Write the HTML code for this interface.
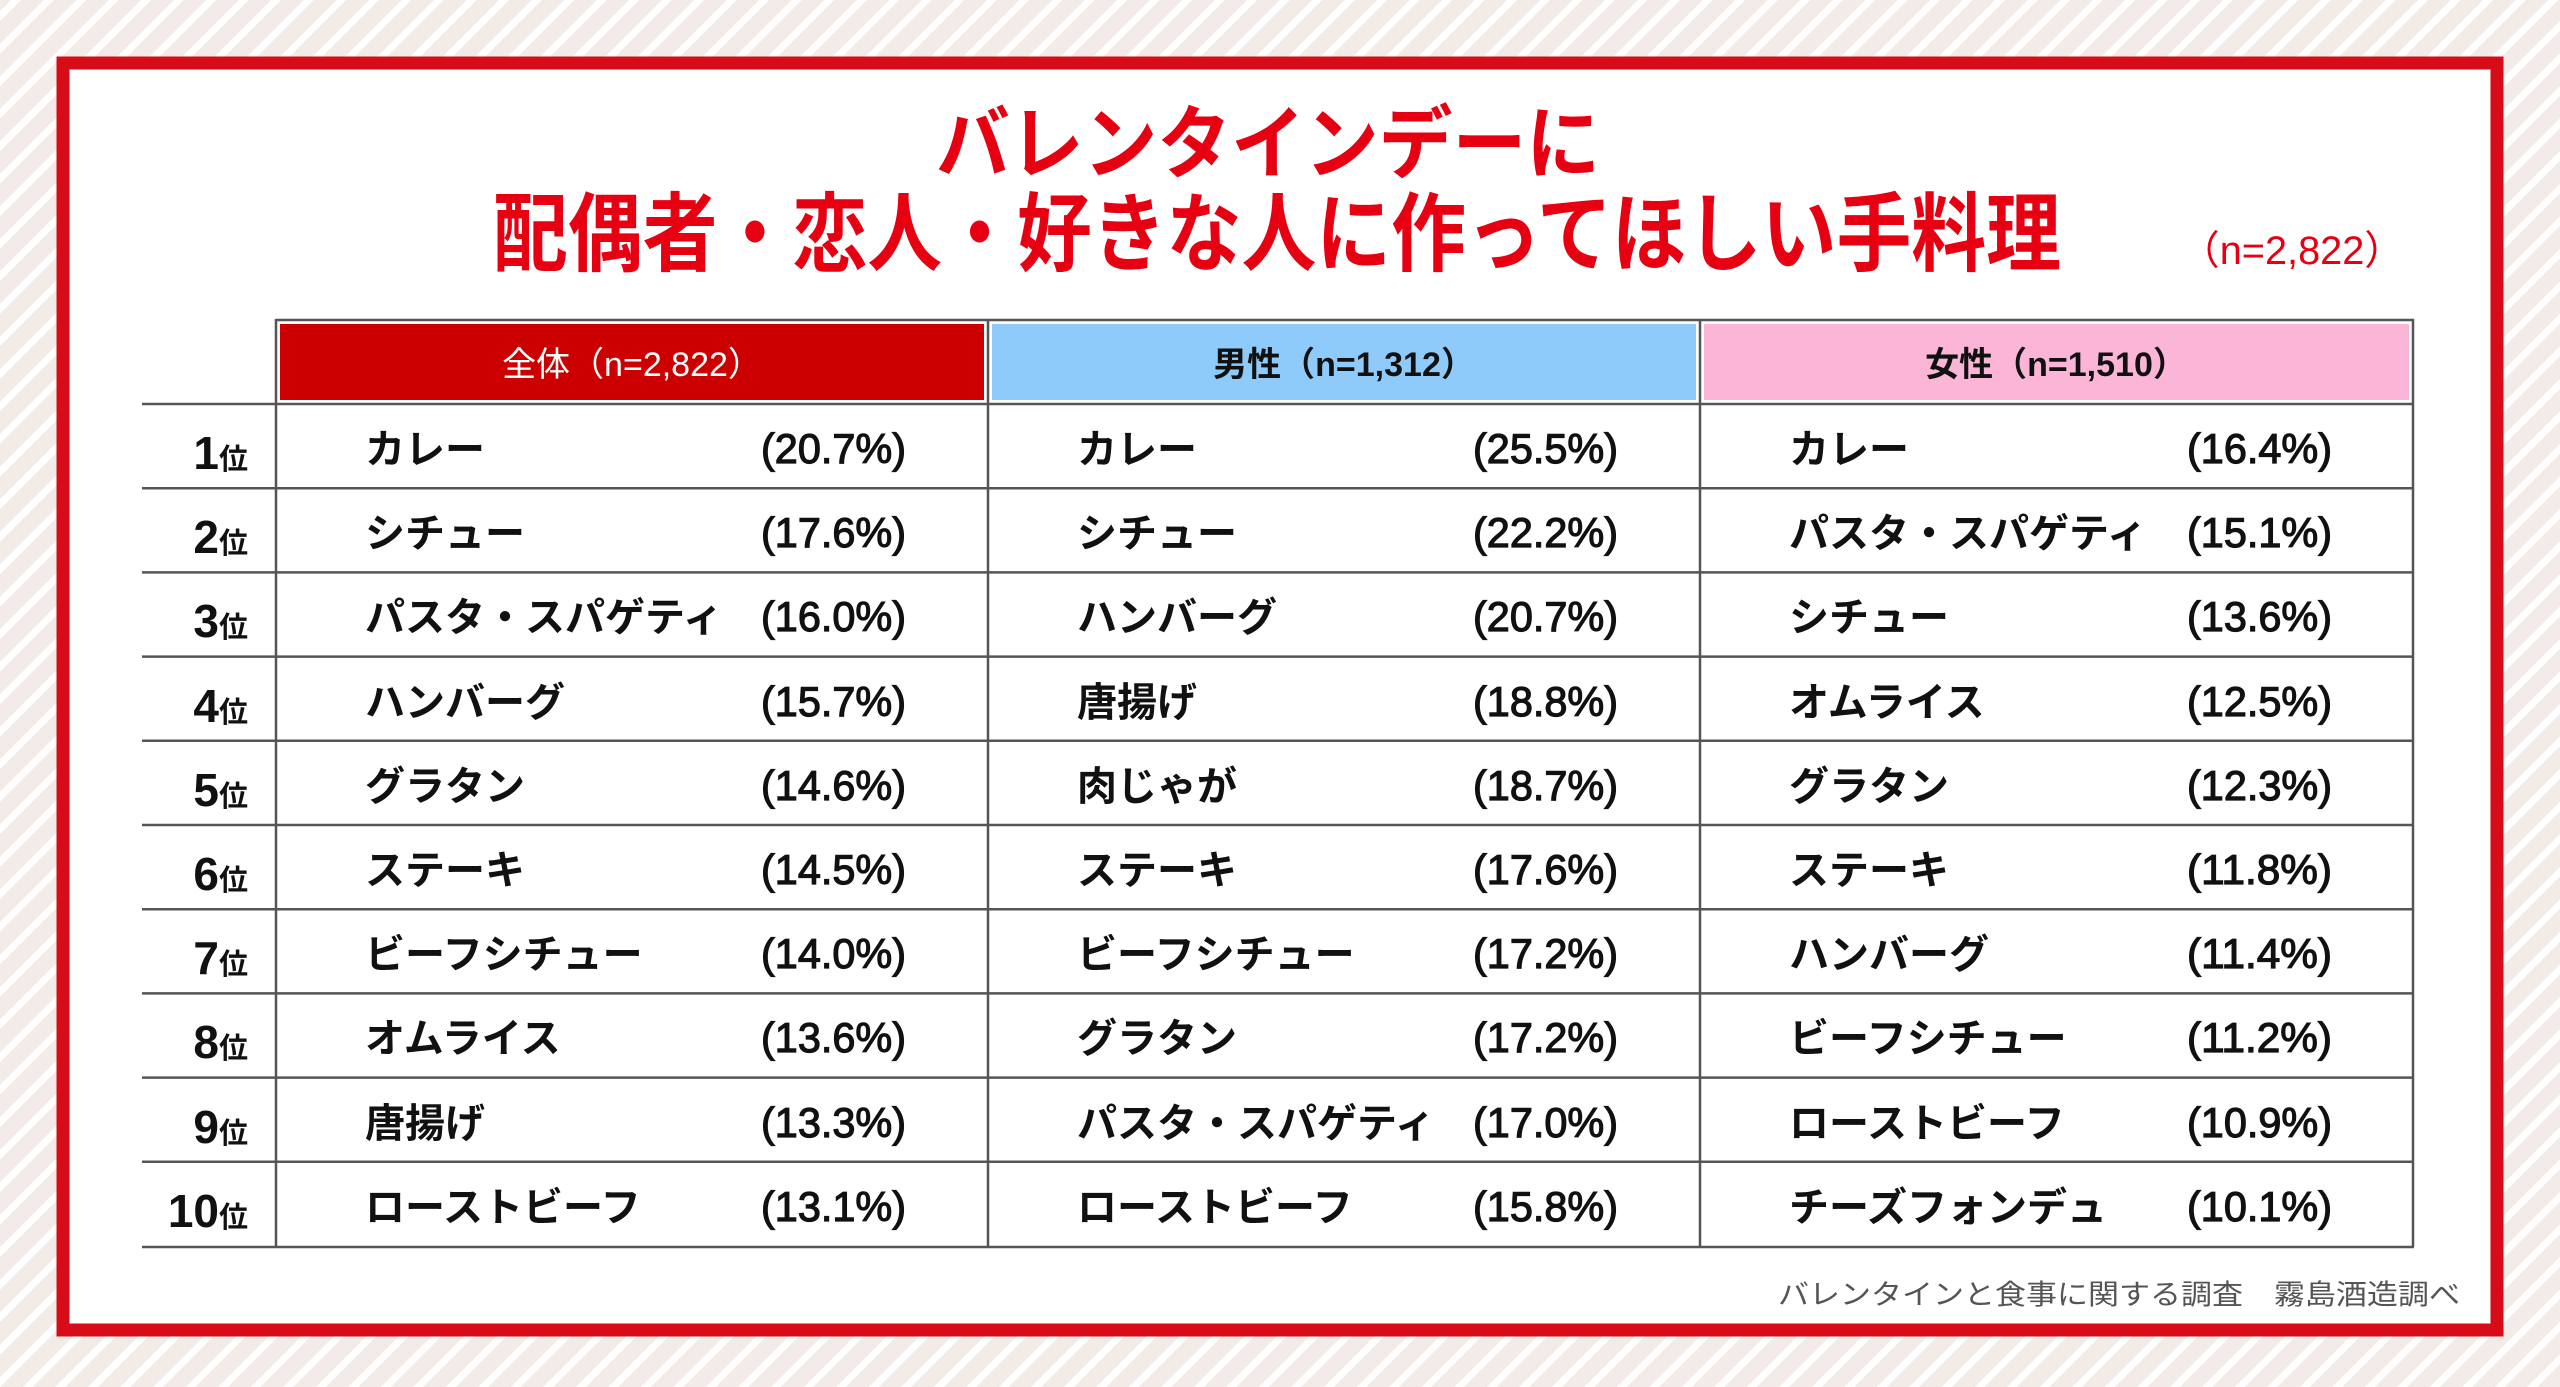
<!DOCTYPE html>
<html><head><meta charset="utf-8"><style>
html,body{margin:0;padding:0;}
body{width:2560px;height:1387px;overflow:hidden;background:#f3ebe8;
background-image:repeating-linear-gradient(-45deg,#f3ebe8 0 16px,#ffffff 16px 23px);}
svg{position:absolute;left:0;top:0;}
.j{font-family:"Liberation Sans","Noto Sans CJK JP",sans-serif;}
</style></head><body>
<svg width="2560" height="1387" viewBox="0 0 2560 1387" xmlns="http://www.w3.org/2000/svg">
<rect x="63" y="63" width="2434" height="1267" fill="#fff" stroke="#d70c18" stroke-width="13"/>
<g class="j" font-weight="bold" fill="#e60012" text-anchor="middle">
<text x="1268" y="172" font-size="80" textLength="664" lengthAdjust="spacingAndGlyphs">バレンタインデーに</text>
<text x="1277" y="264" font-size="86" textLength="1568" lengthAdjust="spacingAndGlyphs">配偶者・恋人・好きな人に作ってほしい手料理</text>
</g>
<text class="j" x="2180" y="264" font-size="40" fill="#e60012" textLength="224" lengthAdjust="spacingAndGlyphs">（n=2,822）</text>
<rect x="280" y="324" width="704" height="76" fill="#cc0000"/>
<rect x="992" y="324" width="704" height="76" fill="#8ecbfa"/>
<rect x="1704" y="324" width="705" height="76" fill="#fbb6d7"/>
<g class="j" font-size="34" text-anchor="middle">
<text x="632" y="376" fill="#fff">全体（n=2,822）</text>
<text x="1344" y="376" fill="#111" font-weight="bold">男性（n=1,312）</text>
<text x="2056" y="376" fill="#111" font-weight="bold">女性（n=1,510）</text>
</g>
<g stroke="#555" stroke-width="2.5" fill="none">
<line x1="276" y1="320" x2="2414" y2="320"/>
<line x1="276" y1="319" x2="276" y2="1247"/>
<line x1="988" y1="319" x2="988" y2="1247"/>
<line x1="1700" y1="319" x2="1700" y2="1247"/>
<line x1="2413" y1="319" x2="2413" y2="1247"/>
<line x1="142" y1="404" x2="2414" y2="404"/>
<line x1="142" y1="488.2" x2="2414" y2="488.2"/>
<line x1="142" y1="572.4" x2="2414" y2="572.4"/>
<line x1="142" y1="656.6" x2="2414" y2="656.6"/>
<line x1="142" y1="740.8" x2="2414" y2="740.8"/>
<line x1="142" y1="825" x2="2414" y2="825"/>
<line x1="142" y1="909.2" x2="2414" y2="909.2"/>
<line x1="142" y1="993.4" x2="2414" y2="993.4"/>
<line x1="142" y1="1077.6" x2="2414" y2="1077.6"/>
<line x1="142" y1="1161.8" x2="2414" y2="1161.8"/>
<line x1="142" y1="1247" x2="2414" y2="1247"/>
</g>
<g class="j" font-weight="bold" fill="#111">
<g text-anchor="end">
<text x="248" y="469"><tspan font-size="46">1</tspan><tspan font-size="29">位</tspan></text>
<text x="248" y="553"><tspan font-size="46">2</tspan><tspan font-size="29">位</tspan></text>
<text x="248" y="637"><tspan font-size="46">3</tspan><tspan font-size="29">位</tspan></text>
<text x="248" y="722"><tspan font-size="46">4</tspan><tspan font-size="29">位</tspan></text>
<text x="248" y="806"><tspan font-size="46">5</tspan><tspan font-size="29">位</tspan></text>
<text x="248" y="890"><tspan font-size="46">6</tspan><tspan font-size="29">位</tspan></text>
<text x="248" y="974"><tspan font-size="46">7</tspan><tspan font-size="29">位</tspan></text>
<text x="248" y="1058"><tspan font-size="46">8</tspan><tspan font-size="29">位</tspan></text>
<text x="248" y="1143"><tspan font-size="46">9</tspan><tspan font-size="29">位</tspan></text>
<text x="248" y="1227"><tspan font-size="46">10</tspan><tspan font-size="29">位</tspan></text>
</g>
<g font-size="40">
<text x="365" y="463">カレー</text>
<text x="365" y="547">シチュー</text>
<text x="365" y="631">パスタ・スパゲティ</text>
<text x="365" y="716">ハンバーグ</text>
<text x="365" y="800">グラタン</text>
<text x="365" y="884">ステーキ</text>
<text x="365" y="968">ビーフシチュー</text>
<text x="365" y="1052">オムライス</text>
<text x="365" y="1137">唐揚げ</text>
<text x="365" y="1221">ローストビーフ</text>
<text x="1077" y="463">カレー</text>
<text x="1077" y="547">シチュー</text>
<text x="1077" y="631">ハンバーグ</text>
<text x="1077" y="716">唐揚げ</text>
<text x="1077" y="800">肉じゃが</text>
<text x="1077" y="884">ステーキ</text>
<text x="1077" y="968">ビーフシチュー</text>
<text x="1077" y="1052">グラタン</text>
<text x="1077" y="1137">パスタ・スパゲティ</text>
<text x="1077" y="1221">ローストビーフ</text>
<text x="1789" y="463">カレー</text>
<text x="1789" y="547">パスタ・スパゲティ</text>
<text x="1789" y="631">シチュー</text>
<text x="1789" y="716">オムライス</text>
<text x="1789" y="800">グラタン</text>
<text x="1789" y="884">ステーキ</text>
<text x="1789" y="968">ハンバーグ</text>
<text x="1789" y="1052">ビーフシチュー</text>
<text x="1789" y="1137">ローストビーフ</text>
<text x="1789" y="1221">チーズフォンデュ</text>
</g>
<g font-size="42" font-weight="normal" stroke="#111" stroke-width="1.2">
<text x="761" y="463" textLength="145" lengthAdjust="spacingAndGlyphs">(20.7%)</text>
<text x="761" y="547" textLength="145" lengthAdjust="spacingAndGlyphs">(17.6%)</text>
<text x="761" y="631" textLength="145" lengthAdjust="spacingAndGlyphs">(16.0%)</text>
<text x="761" y="716" textLength="145" lengthAdjust="spacingAndGlyphs">(15.7%)</text>
<text x="761" y="800" textLength="145" lengthAdjust="spacingAndGlyphs">(14.6%)</text>
<text x="761" y="884" textLength="145" lengthAdjust="spacingAndGlyphs">(14.5%)</text>
<text x="761" y="968" textLength="145" lengthAdjust="spacingAndGlyphs">(14.0%)</text>
<text x="761" y="1052" textLength="145" lengthAdjust="spacingAndGlyphs">(13.6%)</text>
<text x="761" y="1137" textLength="145" lengthAdjust="spacingAndGlyphs">(13.3%)</text>
<text x="761" y="1221" textLength="145" lengthAdjust="spacingAndGlyphs">(13.1%)</text>
<text x="1473" y="463" textLength="145" lengthAdjust="spacingAndGlyphs">(25.5%)</text>
<text x="1473" y="547" textLength="145" lengthAdjust="spacingAndGlyphs">(22.2%)</text>
<text x="1473" y="631" textLength="145" lengthAdjust="spacingAndGlyphs">(20.7%)</text>
<text x="1473" y="716" textLength="145" lengthAdjust="spacingAndGlyphs">(18.8%)</text>
<text x="1473" y="800" textLength="145" lengthAdjust="spacingAndGlyphs">(18.7%)</text>
<text x="1473" y="884" textLength="145" lengthAdjust="spacingAndGlyphs">(17.6%)</text>
<text x="1473" y="968" textLength="145" lengthAdjust="spacingAndGlyphs">(17.2%)</text>
<text x="1473" y="1052" textLength="145" lengthAdjust="spacingAndGlyphs">(17.2%)</text>
<text x="1473" y="1137" textLength="145" lengthAdjust="spacingAndGlyphs">(17.0%)</text>
<text x="1473" y="1221" textLength="145" lengthAdjust="spacingAndGlyphs">(15.8%)</text>
<text x="2187" y="463" textLength="145" lengthAdjust="spacingAndGlyphs">(16.4%)</text>
<text x="2187" y="547" textLength="145" lengthAdjust="spacingAndGlyphs">(15.1%)</text>
<text x="2187" y="631" textLength="145" lengthAdjust="spacingAndGlyphs">(13.6%)</text>
<text x="2187" y="716" textLength="145" lengthAdjust="spacingAndGlyphs">(12.5%)</text>
<text x="2187" y="800" textLength="145" lengthAdjust="spacingAndGlyphs">(12.3%)</text>
<text x="2187" y="884" textLength="145" lengthAdjust="spacingAndGlyphs">(11.8%)</text>
<text x="2187" y="968" textLength="145" lengthAdjust="spacingAndGlyphs">(11.4%)</text>
<text x="2187" y="1052" textLength="145" lengthAdjust="spacingAndGlyphs">(11.2%)</text>
<text x="2187" y="1137" textLength="145" lengthAdjust="spacingAndGlyphs">(10.9%)</text>
<text x="2187" y="1221" textLength="145" lengthAdjust="spacingAndGlyphs">(10.1%)</text>
</g>
</g>
<text class="j" x="1778" y="1304" font-size="28" fill="#555" textLength="682" lengthAdjust="spacingAndGlyphs">バレンタインと食事に関する調査　霧島酒造調べ</text>
</svg>
</body></html>
